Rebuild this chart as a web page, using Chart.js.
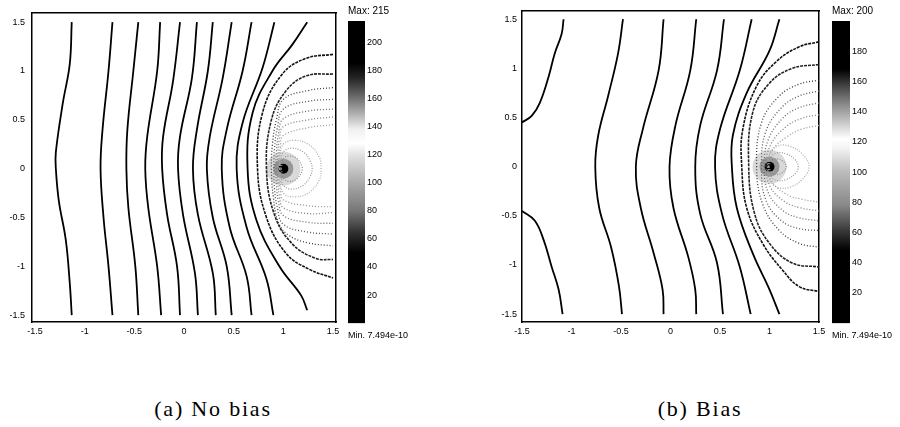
<!DOCTYPE html>
<html>
<head>
<meta charset="utf-8">
<script src="https://cdn.jsdelivr.net/npm/chart.js@4.4.1/dist/chart.umd.min.js"></script>
<style>
  html, body { margin: 0; padding: 0; background: #fff; }
  body { width: 900px; height: 427px; position: relative; overflow: hidden; }
  canvas { position: absolute; top: 0; }
  .caption {
    position: absolute; top: 397px; line-height: 24px;
    font-family: "Liberation Serif", "Times New Roman", serif; font-size: 22px;
    letter-spacing: 1.8px; color: #000; white-space: nowrap;
    transform: translateX(-50%);
  }
</style>
</head>
<body>
<canvas id="plotNoBias" width="346" height="345" style="left:0"></canvas>
<canvas id="barNoBias" width="80" height="345" style="left:346px"></canvas>
<canvas id="plotBias" width="340" height="345" style="left:490px"></canvas>
<canvas id="barBias" width="70" height="345" style="left:830px"></canvas>
<div class="caption" style="left:213px">(a) No bias</div>
<div class="caption" style="left:700px">(b) Bias</div>

<script>
// axis ticks shared by both field plots
const axisTicks = [-1.5, -1, -0.5, 0, 0.5, 1, 1.5];

// colour bar ranges and ticks
const noBiasMax = 215;
const biasMax = 200;
const noBiasBarTicks = [20, 40, 60, 80, 100, 120, 140, 160, 180, 200];
const biasBarTicks = [20, 40, 60, 80, 100, 120, 140, 160, 180];
const minLabel = 'Min. 7.494e-10';

// peak of the field
const noBiasPeak = [1.0, 0.0];
const biasPeak = [1.0, 0.0];

// (a) contours running top to bottom
const noBiasOpen = [
  [[-1.13, 1.5], [-1.15, 1.07], [-1.22, 0.67], [-1.29, 0.17], [-1.29, 0], [-1.26, -0.33], [-1.19, -0.73], [-1.15, -1.17], [-1.13, -1.5]],
  [[-0.72, 1.5], [-0.76, 1.0], [-0.82, 0.4], [-0.84, 0], [-0.81, -0.5], [-0.76, -1.0], [-0.72, -1.5]],
  [[-0.46, 1.5], [-0.51, 1.0], [-0.57, 0.4], [-0.58, 0], [-0.56, -0.4], [-0.49, -1.0], [-0.46, -1.5]],
  [[-0.24, 1.5], [-0.27, 1.0], [-0.37, 0.33], [-0.39, 0], [-0.36, -0.4], [-0.27, -1.0], [-0.23, -1.5]],
  [[-0.04, 1.5], [-0.11, 0.9], [-0.21, 0.33], [-0.22, 0], [-0.17, -0.47], [-0.07, -1.0], [-0.04, -1.5]],
  [[0.13, 1.5], [0.08, 0.93], [-0.04, 0.33], [-0.06, 0], [-0.01, -0.47], [0.11, -1.07], [0.14, -1.5]],
  [[0.29, 1.5], [0.24, 1.0], [0.13, 0.4], [0.09, 0], [0.14, -0.47], [0.29, -1.07], [0.32, -1.5]],
  [[0.48, 1.5], [0.39, 0.93], [0.26, 0.33], [0.23, 0], [0.29, -0.5], [0.43, -1.0], [0.48, -1.5]],
  [[0.68, 1.5], [0.59, 1.0], [0.43, 0.4], [0.38, 0], [0.46, -0.6], [0.63, -1.1], [0.68, -1.5]],
  [[0.91, 1.5], [0.79, 1.03], [0.59, 0.47], [0.53, 0], [0.63, -0.6], [0.83, -1.13], [0.9, -1.5]],
  [[1.24, 1.5], [1.09, 1.27], [0.89, 1.0], [0.69, 0.57], [0.64, 0], [0.73, -0.53], [0.96, -1.0], [1.18, -1.3], [1.24, -1.45]]
];

// (a) contours leaving through the right edge
const noBiasEdge = [
  [[1.5, 1.17], [1.23, 1.13], [0.99, 0.97], [0.79, 0.57], [0.74, 0], [0.83, -0.5], [1.03, -0.87], [1.26, -1.03], [1.5, -1.12]],
  [[1.5, 0.97], [1.23, 0.95], [1.03, 0.8], [0.88, 0.5], [0.83, 0], [0.91, -0.47], [1.09, -0.77], [1.33, -0.92], [1.5, -0.93]],
  [[1.5, 0.83], [1.25, 0.8], [1.0, 0.71], [0.93, 0.5], [0.89, 0.25], [0.88, 0], [0.9, -0.3], [0.95, -0.55], [1.05, -0.68], [1.25, -0.76], [1.5, -0.79]],
  [[1.5, 0.71], [1.25, 0.69], [1.0, 0.61], [0.94, 0.42], [0.91, 0.2], [0.905, 0], [0.91, -0.2], [0.94, -0.4], [1.0, -0.57], [1.25, -0.65], [1.5, -0.67]],
  [[1.5, 0.61], [1.25, 0.59], [1.0, 0.51], [0.95, 0.35], [0.93, 0.17], [0.925, 0], [0.93, -0.17], [0.95, -0.33], [1.0, -0.48], [1.25, -0.55], [1.5, -0.56]],
  [[1.5, 0.53], [1.25, 0.5], [1.0, 0.43], [0.96, 0.3], [0.945, 0.14], [0.94, 0], [0.945, -0.14], [0.96, -0.28], [1.0, -0.4], [1.25, -0.46], [1.5, -0.45]],
  [[1.5, 0.45], [1.25, 0.42], [1.0, 0.34], [0.97, 0.23], [0.955, 0.1], [0.95, 0], [0.955, -0.1], [0.97, -0.22], [1.0, -0.32], [1.25, -0.38], [1.5, -0.39]]
];

// (a) closed contours round the peak
const noBiasLoops = [
  [[0.96, 0], [0.97, 0.15], [1.0, 0.25], [1.1, 0.29], [1.25, 0.25], [1.36, 0.12], [1.38, 0], [1.36, -0.12], [1.25, -0.25], [1.1, -0.29], [1.0, -0.25], [0.97, -0.14], [0.96, 0]],
  [[0.97, 0], [0.98, 0.1], [1.0, 0.17], [1.08, 0.21], [1.2, 0.17], [1.27, 0.08], [1.29, 0], [1.27, -0.08], [1.2, -0.17], [1.08, -0.21], [1.0, -0.17], [0.98, -0.1], [0.97, 0]],
  [[0.98, 0], [1.0, 0.1], [1.06, 0.13], [1.14, 0.1], [1.19, 0], [1.14, -0.1], [1.06, -0.13], [1.0, -0.1], [0.98, 0]]
];

// (b) contours running top to bottom (and the two corner arcs)
const biasOpen = [
  [[-1.5, 0.45], [-1.4, 0.52], [-1.32, 0.65], [-1.23, 0.92], [-1.17, 1.15], [-1.1, 1.35], [-1.08, 1.5]],
  [[-1.5, -0.45], [-1.37, -0.55], [-1.28, -0.75], [-1.2, -1.02], [-1.13, -1.25], [-1.09, -1.5]],
  [[-0.48, 1.5], [-0.53, 1.15], [-0.63, 0.72], [-0.73, 0.32], [-0.76, 0], [-0.72, -0.42], [-0.6, -0.82], [-0.52, -1.22], [-0.49, -1.5]],
  [[-0.07, 1.5], [-0.12, 0.98], [-0.28, 0.38], [-0.35, 0], [-0.3, -0.42], [-0.17, -0.88], [-0.08, -1.25], [-0.07, -1.5]],
  [[0.26, 1.5], [0.2, 0.98], [0.05, 0.42], [-0.01, 0], [0.03, -0.42], [0.18, -0.92], [0.25, -1.25], [0.26, -1.5]],
  [[0.54, 1.5], [0.47, 0.98], [0.3, 0.42], [0.25, 0], [0.3, -0.48], [0.47, -0.98], [0.53, -1.5]],
  [[0.82, 1.5], [0.7, 0.98], [0.5, 0.38], [0.45, 0], [0.52, -0.48], [0.7, -1.02], [0.81, -1.5]],
  [[1.1, 1.5], [1.0, 1.18], [0.77, 0.75], [0.63, 0.32], [0.62, 0], [0.67, -0.42], [0.83, -0.88], [1.0, -1.25], [1.1, -1.5]]
];

// (b) contours leaving through the right edge
const biasEdge = [
  [[1.5, 1.27], [1.3, 1.22], [1.07, 1.07], [0.87, 0.82], [0.73, 0.38], [0.72, 0], [0.77, -0.42], [0.93, -0.78], [1.13, -1.05], [1.3, -1.22], [1.5, -1.27]],
  [[1.5, 1.04], [1.23, 1.0], [1.0, 0.85], [0.83, 0.55], [0.79, 0], [0.85, -0.48], [1.0, -0.78], [1.23, -0.98], [1.5, -1.02]],
  [[1.5, 0.88], [1.3, 0.84], [1.1, 0.72], [0.92, 0.45], [0.87, 0], [0.93, -0.38], [1.1, -0.65], [1.3, -0.78], [1.5, -0.82]],
  [[1.5, 0.77], [1.3, 0.72], [1.12, 0.6], [0.96, 0.35], [0.92, 0], [0.96, -0.33], [1.12, -0.55], [1.3, -0.63], [1.5, -0.65]],
  [[1.5, 0.65], [1.3, 0.6], [1.14, 0.5], [0.99, 0.28], [0.945, 0], [0.99, -0.27], [1.14, -0.45], [1.3, -0.52], [1.5, -0.55]],
  [[1.5, 0.53], [1.32, 0.49], [1.16, 0.4], [1.01, 0.22], [0.965, 0], [1.01, -0.21], [1.16, -0.36], [1.32, -0.42], [1.5, -0.45]],
  [[1.5, 0.42], [1.32, 0.38], [1.17, 0.3], [1.03, 0.17], [0.98, 0], [1.03, -0.16], [1.17, -0.28], [1.32, -0.33], [1.5, -0.36]]
];

// (b) closed contours round the peak
const biasLoops = [
  [[0.985, 0], [1.0, 0.13], [1.08, 0.21], [1.2, 0.21], [1.33, 0.13], [1.4, 0], [1.33, -0.13], [1.2, -0.21], [1.08, -0.21], [1.0, -0.13], [0.985, 0]],
  [[0.99, 0], [1.01, 0.09], [1.07, 0.14], [1.17, 0.13], [1.26, 0.07], [1.29, 0], [1.26, -0.07], [1.17, -0.13], [1.07, -0.14], [1.01, -0.09], [0.99, 0]],
  [[0.995, 0], [1.02, 0.06], [1.07, 0.08], [1.13, 0.06], [1.17, 0], [1.13, -0.06], [1.07, -0.08], [1.02, -0.06], [0.995, 0]]
];

// grey colour maps of the two bars (value, colour)
const noBiasMap = [[0, '#000'], [50, '#000'], [65, '#333'], [80, '#777'], [100, '#aaa'], [118, '#ddd'], [128, '#fff'], [138, '#f0f0f0'], [150, '#aaa'], [162, '#666'], [175, '#222'], [185, '#000'], [215, '#000']];
const biasMap = [[0, '#000'], [48, '#000'], [60, '#333'], [78, '#888'], [100, '#bbb'], [116, '#f4f4f4'], [122, '#fff'], [132, '#ccc'], [145, '#888'], [157, '#444'], [168, '#000'], [200, '#000']];

const sans = 'Liberation Sans, Arial, sans-serif';
const edgeShade = ['#111', '#222', '#3a3a3a', '#555', '#6a6a6a', '#808080', '#999'];
const loopShade = ['#aaa', '#999', '#888'];

function lineSet(line, color, width, dash) {
  return {
    data: line.map(([x, y]) => ({x, y})),
    showLine: true, pointRadius: 0, fill: false, tension: 0.4,
    borderColor: color, borderWidth: width, borderDash: dash
  };
}

function contourSets(open, edge, loops, peak) {
  const sets = [];
  open.forEach(l => sets.push(lineSet(l, '#000', 1.8, [])));
  edge.forEach((l, i) => sets.push(lineSet(l, edgeShade[i], i < 2 ? 1.6 : 1.3, i < 2 ? [3, 1] : [1, 2])));
  loops.forEach((l, i) => sets.push(lineSet(l, loopShade[i], 1.2, [1, 1.5])));
  // peak: soft halo, then the dark core
  [[17, 'rgba(0,0,0,0.15)'], [10, 'rgba(0,0,0,0.3)'], [5, '#000']].forEach(([r, c]) => {
    sets.push({data: [{x: peak[0], y: peak[1]}], pointRadius: r, backgroundColor: c, borderWidth: 0, showLine: false});
  });
  return sets;
}

function frameAxis(axis, position, min, max) {
  return {
    axis, position, type: 'linear', min, max,
    ticks: {display: false},
    grid: {display: false, drawTicks: false},
    border: {display: true, color: '#000', width: 1.5},
    afterFit: s => { if (axis === 'x') s.height = 0; else s.width = 0; }
  };
}

function tickAxis(position, min, max, pad, size) {
  return {
    position, type: 'linear', min, max,
    afterBuildTicks: s => { s.ticks = axisTicks.map(v => ({value: v})); },
    afterFit: s => { if (position === 'bottom') s.height = size; else s.width = size; },
    grid: {display: false, drawTicks: false},
    border: {display: true, color: '#000', width: 1.5},
    ticks: {font: {family: sans, size: 9}, color: '#000', padding: pad, autoSkip: false, maxRotation: 0, callback: v => String(v)}
  };
}

function contourChart(id, sets, xr, yr, yPad, rightPad) {
  new Chart(document.getElementById(id), {
    type: 'scatter',
    data: {datasets: sets},
    options: {
      responsive: false, animation: false,
      layout: {autoPadding: false, padding: {top: 6, right: rightPad, left: 0, bottom: 0}},
      plugins: {legend: {display: false}, tooltip: {enabled: false}},
      scales: {
        x: tickAxis('bottom', xr[0], xr[1], 4, 23),
        y: tickAxis('left', yr[0], yr[1], yPad, 32),
        x2: frameAxis('x', 'top', xr[0], xr[1]),
        y2: frameAxis('y', 'right', yr[0], yr[1])
      }
    }
  });
}

function barGradient(chart, max, stops) {
  if (!chart.chartArea) return '#000';
  const y = chart.scales.y;
  const g = chart.ctx.createLinearGradient(0, y.getPixelForValue(0), 0, y.getPixelForValue(max));
  stops.forEach(([v, c]) => g.addColorStop(Math.min(1, v / max), c));
  return g;
}

function colorBar(id, max, ticks, stops, axisWidth) {
  new Chart(document.getElementById(id), {
    type: 'bar',
    data: {
      labels: [''],
      datasets: [{
        data: [[0, max]], borderWidth: 0, barPercentage: 1, categoryPercentage: 1,
        backgroundColor: c => barGradient(c.chart, max, stops)
      }]
    },
    options: {
      responsive: false, animation: false,
      layout: {autoPadding: false, padding: {left: 2}},
      plugins: {
        legend: {display: false}, tooltip: {enabled: false},
        title: {display: true, text: 'Max: ' + max, align: 'start', color: '#000',
                font: {family: sans, size: 10, weight: 'normal'}, padding: {top: 5, bottom: 4}},
        subtitle: {display: true, text: minLabel, position: 'bottom', align: 'start', color: '#000',
                   font: {family: sans, size: 9, weight: 'normal'}, padding: {top: 7, bottom: 4}}
      },
      scales: {
        x: {display: false},
        y: {
          position: 'right', min: 0, max,
          afterBuildTicks: s => { s.ticks = ticks.map(v => ({value: v})); },
          afterFit: s => { s.width = axisWidth; },
          grid: {display: false, drawTicks: false}, border: {display: false},
          ticks: {font: {family: sans, size: 9}, color: '#000', padding: 2}
        }
      }
    }
  });
}

contourChart('plotNoBias', contourSets(noBiasOpen, noBiasEdge, noBiasLoops, noBiasPeak), [-1.53, 1.53], [-1.57, 1.6], 7, 10);
colorBar('barNoBias', noBiasMax, noBiasBarTicks, noBiasMap, 61);
contourChart('plotBias', contourSets(biasOpen, biasEdge, biasLoops, biasPeak), [-1.5, 1.5], [-1.58, 1.59], 5, 11);
colorBar('barBias', biasMax, biasBarTicks, biasMap, 50);
</script>
</body>
</html>
